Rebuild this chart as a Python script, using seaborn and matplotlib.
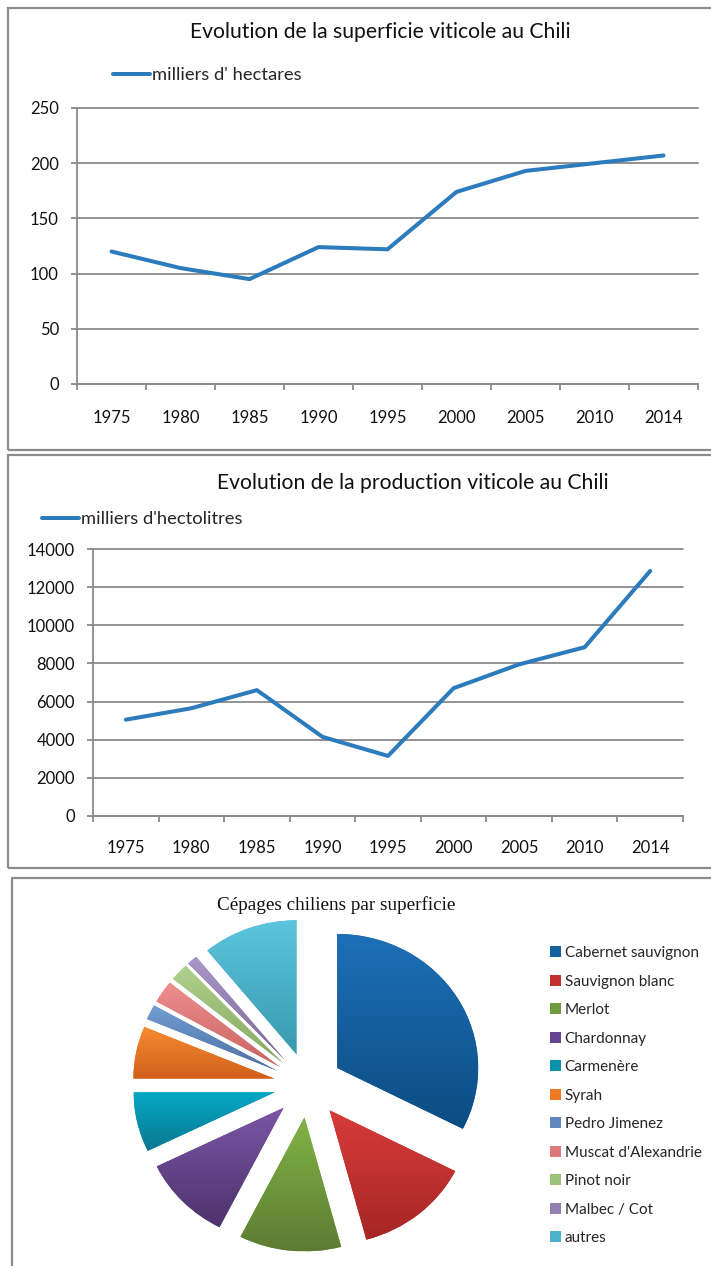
import numpy as np
import pandas as pd
import matplotlib
matplotlib.use("Agg")
import matplotlib.pyplot as plt
import seaborn as sns
from matplotlib.patches import Rectangle
from matplotlib.colors import LinearSegmentedColormap

# ---------------- data ----------------
years = ["1975", "1980", "1985", "1990", "1995", "2000", "2005", "2010", "2014"]
surface = [120, 105, 95, 124, 122, 174, 193, 200, 207]
production = [5050, 5650, 6600, 4150, 3150, 6700, 7950, 8850, 12850]

cepages = ["Cabernet sauvignon", "Sauvignon blanc", "Merlot", "Chardonnay",
           "Carmenère", "Syrah", "Pedro Jimenez", "Muscat d'Alexandrie",
           "Pinot noir", "Malbec / Cot", "autres"]
parts = [32.5, 13.3, 11.7, 10.3, 7.2, 6.3, 1.8, 2.7, 2.1, 1.2, 10.9]

# ---------------- style ----------------
W, H = 711, 1266
sns.set_theme(style="white")
plt.rcParams['font.family'] = ['Lato', 'DejaVu Sans']

LINE = '#2b7bbd'
GRID = '#8a8a8a'
BORDER = '#8c8c8c'

fig = plt.figure(figsize=(W / 100, H / 100), dpi=100)
fig.patch.set_facecolor('white')


def fx(px):
    return px / W


def fy(py):
    return 1 - py / H


def axes_px(l, t, r, b):
    return fig.add_axes([l / W, 1 - b / H, (r - l) / W, (b - t) / H])


def border(l, t, r, b):
    fig.add_artist(Rectangle((fx(l), fy(b)), fx(r) - fx(l), fy(t) - fy(b),
                             transform=fig.transFigure, fill=False,
                             ec=BORDER, lw=1.6, zorder=0))


border(8, 8, 720, 450)
border(8, 455, 720, 868)
border(12, 878, 720, 1280)


def line_panel(box, values, ymax, ystep, label, leg_xy, title, title_xy, xpad):
    ax = axes_px(*box)
    df = pd.DataFrame({"annee": years, "valeur": values})
    sns.lineplot(data=df, x="annee", y="valeur", ax=ax, color=LINE, lw=2.9,
                 sort=False, label=label, legend=False)
    ax.set_xlim(-0.5, len(years) - 0.5)
    ax.set_ylim(0, ymax)
    ax.set_yticks(np.arange(0, ymax + 1, ystep))
    ax.yaxis.grid(True, color=GRID, lw=1.3)
    ax.xaxis.grid(False)
    for gl in ax.get_ygridlines():
        gl.set_clip_on(False)
    for s in ['top', 'right']:
        ax.spines[s].set_visible(False)
    for s in ['left', 'bottom']:
        ax.spines[s].set_color(GRID)
        ax.spines[s].set_linewidth(1.3)
    ax.set_xticks(np.arange(-0.5, len(years)), minor=True)
    ax.tick_params(axis='x', which='major', length=0, pad=xpad, labelsize=12,
                   labelcolor='#111111')
    ax.tick_params(axis='x', which='minor', length=4.5, width=1.3, color=GRID,
                   direction='out', bottom=True)
    ax.tick_params(axis='y', length=4.5, width=1.3, color=GRID, left=True,
                   direction='out', pad=8.5, labelsize=12, labelcolor='#111111')
    ax.set_xlabel('')
    ax.set_ylabel('')
    ax.set_facecolor('none')
    h = ax.get_lines()[0]
    ax.legend([h], [label], loc='center left',
              bbox_to_anchor=(fx(leg_xy[0]), fy(leg_xy[1])),
              bbox_transform=fig.transFigure, frameon=False, borderpad=0,
              borderaxespad=0, handlelength=2.0, handletextpad=0.12,
              fontsize=13.2)
    fig.text(fx(title_xy[0]), fy(title_xy[1]), title, ha='center', va='center',
             fontsize=15.2, color='#111111')
    return ax


line_panel((77, 108, 698, 384), surface, 250, 50, "milliers d' hectares",
           (113, 75), "Evolution de la superficie viticole au Chili", (380, 32), 19)
line_panel((93, 549, 683, 816), production, 14000, 2000, "milliers d'hectolitres",
           (42, 519), "Evolution de la production viticole au Chili", (413, 483), 17)

# ---------------- pie ----------------
tops = ['#1d70b8', '#d83c3a', '#82b446', '#7b56a6', '#05a8c6', '#f58b2e',
        '#729ed3', '#ef8f8e', '#b0d28e', '#ab97c8', '#5cc5de']
bots = ['#0c4c82', '#a52625', '#5c7c33', '#4d336c', '#0a7890', '#d15f1c',
        '#4c70a4', '#c66262', '#84a65f', '#7c6799', '#389aae']
mids = ['#15609e', '#c23130', '#6f9a3d', '#654590', '#0a91ac', '#ee7a24',
        '#6087bd', '#dc7a79', '#9dc27a', '#9480b0', '#4ab2ca']

RX, RY = 141, 134
cx, cy = 308, 1085
axp = axes_px(cx - 1.3 * RX, cy - 1.3 * RY, cx + 1.3 * RX, cy + 1.3 * RY)
wedges, _ = axp.pie(parts, colors=mids, startangle=90, counterclock=False,
                    explode=[0.243] * len(parts), radius=1,
                    wedgeprops=dict(lw=0))
grad = np.linspace(0, 1, 256).reshape(-1, 1)
for w, ct, cb in zip(wedges, tops, bots):
    ext = w.get_path().get_extents()
    cmap = LinearSegmentedColormap.from_list('g', [cb, ct])
    im = axp.imshow(grad, extent=[ext.x0, ext.x1, ext.y0, ext.y1], origin='lower',
                    cmap=cmap, aspect='auto', interpolation='bilinear',
                    zorder=w.get_zorder() + 0.1)
    im.set_clip_path(w)
axp.set_aspect('auto')
axp.set_xlim(-1.3, 1.3)
axp.set_ylim(-1.3, 1.3)
axp.axis('off')

fig.text(fx(336), fy(905), "Cépages chiliens par superficie", ha='center',
         va='center', fontsize=13.8, family=['Liberation Serif', 'DejaVu Serif'],
         color='#111111')

fig.legend(wedges, cepages, loc='upper left',
           bbox_to_anchor=(fx(550), fy(946)), bbox_transform=fig.transFigure,
           frameon=False, borderpad=0, borderaxespad=0, fontsize=11,
           handlelength=0.7, handleheight=0.7, handletextpad=0.25,
           labelspacing=0.95)

fig.savefig("out.png", dpi=100, facecolor='white')
